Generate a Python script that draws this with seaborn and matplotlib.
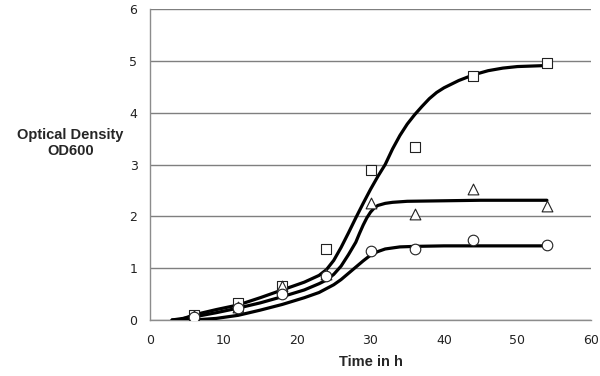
import matplotlib.pyplot as plt
import pandas as pd
import numpy as np
import seaborn as sns

# measured points (time in h, OD600)
t_meas = [6, 12, 18, 24, 30, 36, 44, 54]
od_square = [0.10, 0.33, 0.65, 1.37, 2.90, 3.33, 4.70, 4.95]
od_triangle = [0.08, 0.25, 0.65, 0.88, 2.25, 2.05, 2.52, 2.20]
od_circle = [0.06, 0.24, 0.50, 0.85, 1.33, 1.37, 1.55, 1.45]

# fitted curves
t_fit_sq = [4, 6, 9, 12, 15, 18, 21, 23, 24, 25, 26, 27, 28, 29, 30, 31, 32, 33, 34, 35, 36, 37, 38, 39, 40, 42, 44, 46, 48, 50, 54]
od_fit_sq = [0.0, 0.10, 0.20, 0.29, 0.43, 0.58, 0.73, 0.86, 0.97, 1.15, 1.40, 1.68, 1.97, 2.25, 2.52, 2.77, 3.00, 3.30, 3.56, 3.78, 3.96, 4.12, 4.27, 4.39, 4.48, 4.62, 4.73, 4.81, 4.86, 4.89, 4.91]
t_fit_tr = [3, 6, 9, 12, 15, 18, 21, 23, 24, 25, 26, 27, 28, 28.5, 29, 29.5, 30, 30.5, 31, 32, 33, 35, 40, 45, 54]
od_fit_tr = [0.0, 0.06, 0.14, 0.23, 0.33, 0.45, 0.58, 0.70, 0.77, 0.88, 1.04, 1.26, 1.50, 1.67, 1.83, 1.97, 2.08, 2.16, 2.21, 2.25, 2.27, 2.29, 2.30, 2.31, 2.31]
t_fit_ci = [3, 6, 9, 12, 15, 18, 21, 23, 25, 26, 27, 28, 29, 30, 31, 32, 33, 34, 36, 40, 45, 54]
od_fit_ci = [0.0, 0.0, 0.03, 0.09, 0.19, 0.30, 0.43, 0.53, 0.68, 0.78, 0.90, 1.02, 1.14, 1.25, 1.32, 1.37, 1.39, 1.41, 1.42, 1.43, 1.43, 1.43]

sns.set_style("white")
plt.rcParams['font.family'] = ['DejaVu Sans']

fig = plt.figure(figsize=(6, 3.76), dpi=100)
ax = fig.add_axes([0.25, 0.149, 0.735, 0.827])

for tf, odf in [(t_fit_sq, od_fit_sq), (t_fit_tr, od_fit_tr), (t_fit_ci, od_fit_ci)]:
    sns.lineplot(x=tf, y=odf, ax=ax, color="black", linewidth=2.3, sort=False, zorder=3)

for od, mk, sz in [(od_square, "s", 55), (od_triangle, "^", 60), (od_circle, "o", 58)]:
    sns.scatterplot(x=t_meas, y=od, ax=ax, marker=mk, s=sz, facecolor="white",
                    edgecolor="#222222", linewidth=0.8, zorder=4)

ax.set_xlim(0, 60)
ax.set_ylim(0, 6)
ax.set_xticks(range(0, 61, 10))
ax.set_yticks(range(0, 7))
ax.yaxis.grid(True, color="#7f7f7f", linewidth=1.0)
ax.set_axisbelow(True)
for s in ["top", "right"]:
    ax.spines[s].set_visible(False)
for s in ["left", "bottom"]:
    ax.spines[s].set_color("#8c8c8c")
    ax.spines[s].set_linewidth(1.0)
ax.tick_params(axis="both", direction="out", length=4, width=1, color="#8c8c8c",
               labelsize=9, labelcolor="#222222", pad=5)
ax.tick_params(axis="x", pad=6)

ax.set_xlabel("Time in h", fontsize=10.5, fontweight="bold", family="Liberation Sans", labelpad=6)
fig.text(0.117, 0.62, "Optical Density\nOD600", ha="center", va="center", fontsize=10.5,
         fontweight="bold", family="Liberation Sans", linespacing=1.2)

fig.savefig("out.png", dpi=100)
